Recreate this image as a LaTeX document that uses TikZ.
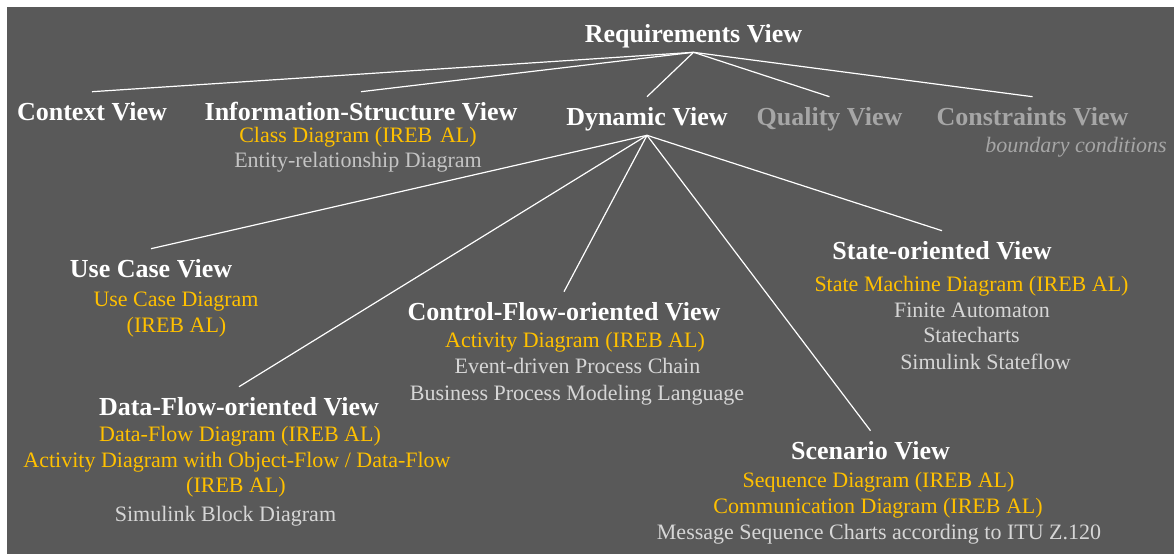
\documentclass[tikz,border=0pt]{standalone}
\usepackage{fontspec}
\setmainfont{Liberation Serif}
\usetikzlibrary{calc}
\definecolor{bgc}{HTML}{595959}
\definecolor{orng}{HTML}{FFC000}
\definecolor{ltgray}{HTML}{D6D6D6}
\definecolor{midgray}{HTML}{C4C4C4}
\definecolor{grayq}{HTML}{A6A6A6}
\begin{document}
\begin{tikzpicture}[x=1pt,y=-1pt,
  head/.style={font=\fontsize{26}{26}\selectfont\bfseries, text=white, inner sep=0pt, text height=17.2pt, text depth=0pt},
  headg/.style={head, text=grayq},
  sub/.style={font=\fontsize{22}{22}\selectfont, inner sep=0pt, text height=14.6pt, text depth=0pt},
  ireb/.style={sub, text=orng},
  other/.style={sub, text=ltgray},
  link/.style={draw=white, line width=1.2pt}]
\useasboundingbox (0,0) rectangle (1174,554);
\fill[white] (0,0) rectangle (1174,554);
\fill[bgc] (7,7) rectangle (1174,554);

\node[head] (req) at (693.5,33.5) {Requirements View};
\node[head] (ctx) at (92,111.5) {Context View};
\node[head] (info) at (361,111.5) {Information-Structure View};
\node[ireb] (info1) at (358,134.75) {Class Diagram (IREB\hspace{0.35em}AL)};
\node[other, text=midgray] (info2) at (358,159.75) {Entity-relationship Diagram};
\node[head] (dyn) at (647,116.5) {Dynamic View};
\node[headg] (qual) at (829.5,116.5) {Quality View};
\node[headg] (cons) at (1032.5,116.5) {Constraints View};
\node[sub, font=\fontsize{22}{22}\selectfont\itshape, text=grayq] (cons1) at (1076,144.75) {boundary conditions};

\node[head] (uc) at (151,268.5) {Use Case View};
\node[ireb] (uc1) at (176,298.75) {Use Case Diagram};
\node[ireb] (uc2) at (176.5,324.75) {(IREB AL)};

\node[head] (cf) at (564,311.5) {Control-Flow-oriented View};
\node[ireb] (cf1) at (575,340.5) {Activity Diagram (IREB AL)};
\node[other] (cf2) at (577.5,366.5) {Event-driven Process Chain};
\node[other] (cf3) at (577,393.5) {Business Process Modeling Language};

\node[head] (st) at (942,250.5) {State-oriented View};
\node[ireb] (st1) at (971.5,283.75) {State Machine Diagram (IREB AL)};
\node[other] (st2) at (972,309.75) {Finite Automaton};
\node[other] (st3) at (971.5,334.75) {Statecharts};
\node[other] (st4) at (985.5,361.75) {Simulink Stateflow};

\node[head] (df) at (239,406.5) {Data-Flow-oriented View};
\node[ireb] (df1) at (240,433.75) {Data-Flow Diagram (IREB AL)};
\node[ireb] (df2) at (237,459.75) {Activity Diagram with Object-Flow / Data-Flow};
\node[ireb] (df3) at (236,484.75) {(IREB AL)};
\node[other] (df4) at (225.5,513.75) {Simulink Block Diagram};

\node[head] (sc) at (870.5,450.5) {Scenario View};
\node[ireb] (sc1) at (878.5,479.75) {Sequence Diagram (IREB AL)};
\node[ireb] (sc2) at (878,505.75) {Communication Diagram (IREB AL)};
\node[other] (sc3) at (879,531.75) {Message Sequence Charts according to ITU Z.120};

\coordinate (root) at ([yshift=-10pt]req.south);
\coordinate (hub) at ([yshift=-10pt]dyn.south);

\draw[link] (root) -- ([yshift=11pt]ctx.north);
\draw[link] (root) -- ([yshift=11pt]info.north);
\draw[link] (root) -- ([yshift=11pt]dyn.north);
\draw[link] (root) -- ([yshift=11pt]qual.north);
\draw[link] (root) -- ([yshift=11pt]cons.north);

\draw[link] (hub) -- ([yshift=11pt]uc.north);
\draw[link] (hub) -- ([yshift=11pt]df.north);
\draw[link] (hub) -- ([yshift=11pt]cf.north);
\draw[link] (hub) -- ([yshift=11pt]sc.north);
\draw[link] (hub) -- ([yshift=11pt]st.north);
\end{tikzpicture}
\end{document}
